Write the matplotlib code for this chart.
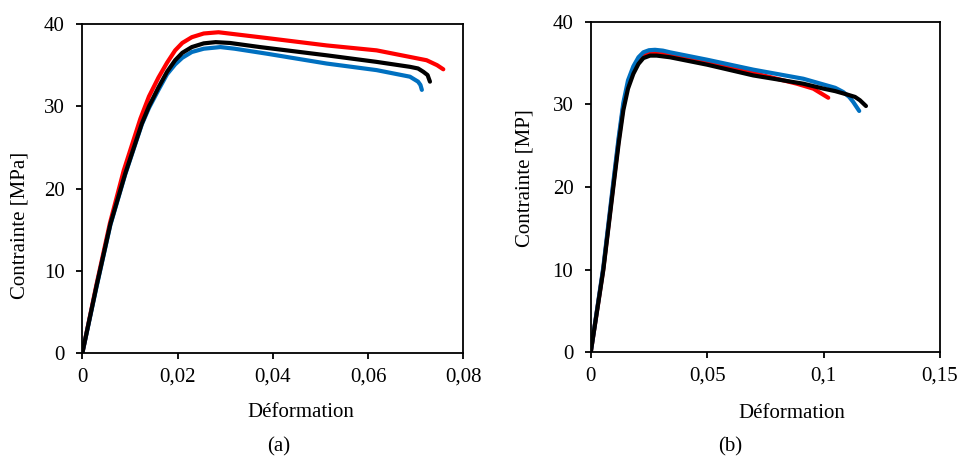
import matplotlib
matplotlib.use("Agg")
import matplotlib.pyplot as plt

plt.rcParams['font.family'] = ['Liberation Serif', 'DejaVu Serif']
plt.rcParams['font.size'] = 15

# (a) courbes contrainte-deformation
strain_a_red = [0, 0.003, 0.0058, 0.0087, 0.0122, 0.014, 0.016, 0.0178, 0.0195, 0.021, 0.023, 0.0255, 0.0286,
                0.0387, 0.0513, 0.0618, 0.0688, 0.0723, 0.0745, 0.0758]
stress_a_red = [0, 8.4, 15.8, 22.2, 28.5, 31.2, 33.5, 35.3, 36.8, 37.7, 38.4, 38.85, 39.0,
                38.3, 37.4, 36.8, 36.0, 35.6, 35.0, 34.5]

strain_a_blue = [0, 0.003, 0.0059, 0.009, 0.0125, 0.014, 0.016, 0.0178, 0.0195, 0.021, 0.023, 0.0255, 0.029,
                 0.032, 0.0387, 0.0513, 0.0618, 0.0688, 0.0705, 0.0710, 0.0713]
stress_a_blue = [0, 8.1, 15.6, 21.7, 27.8, 29.8, 32.0, 33.9, 35.1, 35.9, 36.6, 37.0, 37.2,
                 37.0, 36.4, 35.2, 34.4, 33.6, 33.0, 32.6, 32.0]

strain_a_black = [0, 0.003, 0.0059, 0.009, 0.0125, 0.014, 0.016, 0.0178, 0.0195, 0.021, 0.023, 0.0255, 0.028,
                  0.031, 0.0373, 0.0513, 0.0618, 0.0688, 0.0705, 0.0716, 0.0725, 0.0730]
stress_a_black = [0, 8.2, 15.7, 21.8, 27.9, 30.0, 32.3, 34.2, 35.6, 36.5, 37.2, 37.65, 37.8,
                  37.7, 37.2, 36.2, 35.4, 34.8, 34.6, 34.2, 33.8, 33.0]

# (b)
strain_b_red = [0, 0.0054, 0.0097, 0.012, 0.014, 0.016, 0.0183, 0.0205, 0.0226, 0.025, 0.028, 0.034, 0.05,
                0.0698, 0.0885, 0.0956, 0.102]
stress_b_red = [0, 10.1, 20.3, 25.7, 29.8, 32.4, 34.2, 35.4, 36.0, 36.25, 36.3, 36.0, 35.0,
                33.8, 32.5, 31.9, 30.8]

strain_b_blue = [0, 0.0054, 0.0097, 0.012, 0.014, 0.016, 0.0183, 0.0205, 0.0226, 0.025, 0.0276, 0.031, 0.034,
                 0.05, 0.0698, 0.0913, 0.1, 0.105, 0.1084, 0.111, 0.1127, 0.1153]
stress_b_blue = [0, 10.3, 20.6, 26.0, 30.2, 32.9, 34.6, 35.7, 36.3, 36.55, 36.6, 36.5, 36.3,
                 35.4, 34.2, 33.1, 32.4, 32.0, 31.5, 30.9, 30.3, 29.2]

strain_b_black = [0, 0.0054, 0.0097, 0.012, 0.014, 0.016, 0.0183, 0.0205, 0.0226, 0.0255, 0.0283, 0.034,
                  0.05, 0.0698, 0.0913, 0.1, 0.105, 0.11, 0.1135, 0.1156, 0.1182]
stress_b_black = [0, 9.96, 20.0, 25.3, 29.3, 31.9, 33.7, 34.9, 35.6, 35.9, 35.9, 35.7,
                  34.8, 33.5, 32.5, 31.9, 31.6, 31.2, 30.9, 30.5, 29.8]

yticks = [0, 10, 20, 30, 40]
xticks_a = [0, 0.02, 0.04, 0.06, 0.08]
xticklabels_a = ['0', '0,02', '0,04', '0,06', '0,08']
xticks_b = [0, 0.05, 0.1, 0.15]
xticklabels_b = ['0', '0,05', '0,1', '0,15']

RED = '#FF0000'
BLUE = '#0070C0'
BLACK = '#000000'
LW = 3.0


def style_axes(ax, xticks, xticklabels, xmax):
    ax.set_xlim(0, xmax)
    ax.set_ylim(0, 40)
    ax.set_xticks(xticks)
    ax.set_xticklabels(xticklabels)
    ax.set_yticks(yticks)
    for s in ax.spines.values():
        s.set_linewidth(1.3)
        s.set_color('black')
    ax.tick_params(axis='both', direction='out', length=4.5, width=1.3, labelsize=15)
    ax.tick_params(axis='y', pad=8)
    ax.tick_params(axis='x', pad=6)


def draw(ax, x, y, color):
    ax.plot(x, y, color=color, lw=LW, solid_capstyle='round', solid_joinstyle='round')


fig = plt.figure(figsize=(9.59, 4.61), dpi=100)

ax1 = fig.add_axes([0.0858, 0.2336, 0.3973, 0.7143])
draw(ax1, strain_a_red, stress_a_red, RED)
draw(ax1, strain_a_blue, stress_a_blue, BLUE)
draw(ax1, strain_a_black, stress_a_black, BLACK)
style_axes(ax1, xticks_a, xticklabels_a, 0.08)
ax1.set_xlabel('Déformation', fontsize=15, va='center')
ax1.xaxis.set_label_coords(0.574, -0.181)
ax1.set_ylabel('Contrainte [MPa]', fontsize=15, va='center')
ax1.yaxis.set_label_coords(-0.1635, 0.387)

ax2 = fig.add_axes([0.616, 0.2358, 0.3642, 0.7171])
draw(ax2, strain_b_red, stress_b_red, RED)
draw(ax2, strain_b_blue, stress_b_blue, BLUE)
draw(ax2, strain_b_black, stress_b_black, BLACK)
style_axes(ax2, xticks_b, xticklabels_b, 0.15)
ax2.set_xlabel('Déformation', fontsize=15, va='center')
ax2.xaxis.set_label_coords(0.576, -0.184)
ax2.set_ylabel('Contrainte [MP]', fontsize=15, va='center')
ax2.yaxis.set_label_coords(-0.188, 0.527)

fig.text(279 / 959, 1 - 447 / 461, '(a)', ha='center', va='center', fontsize=15)
fig.text(730 / 959, 1 - 447 / 461, '(b)', ha='center', va='center', fontsize=15)

fig.savefig('out.png', dpi=100)
